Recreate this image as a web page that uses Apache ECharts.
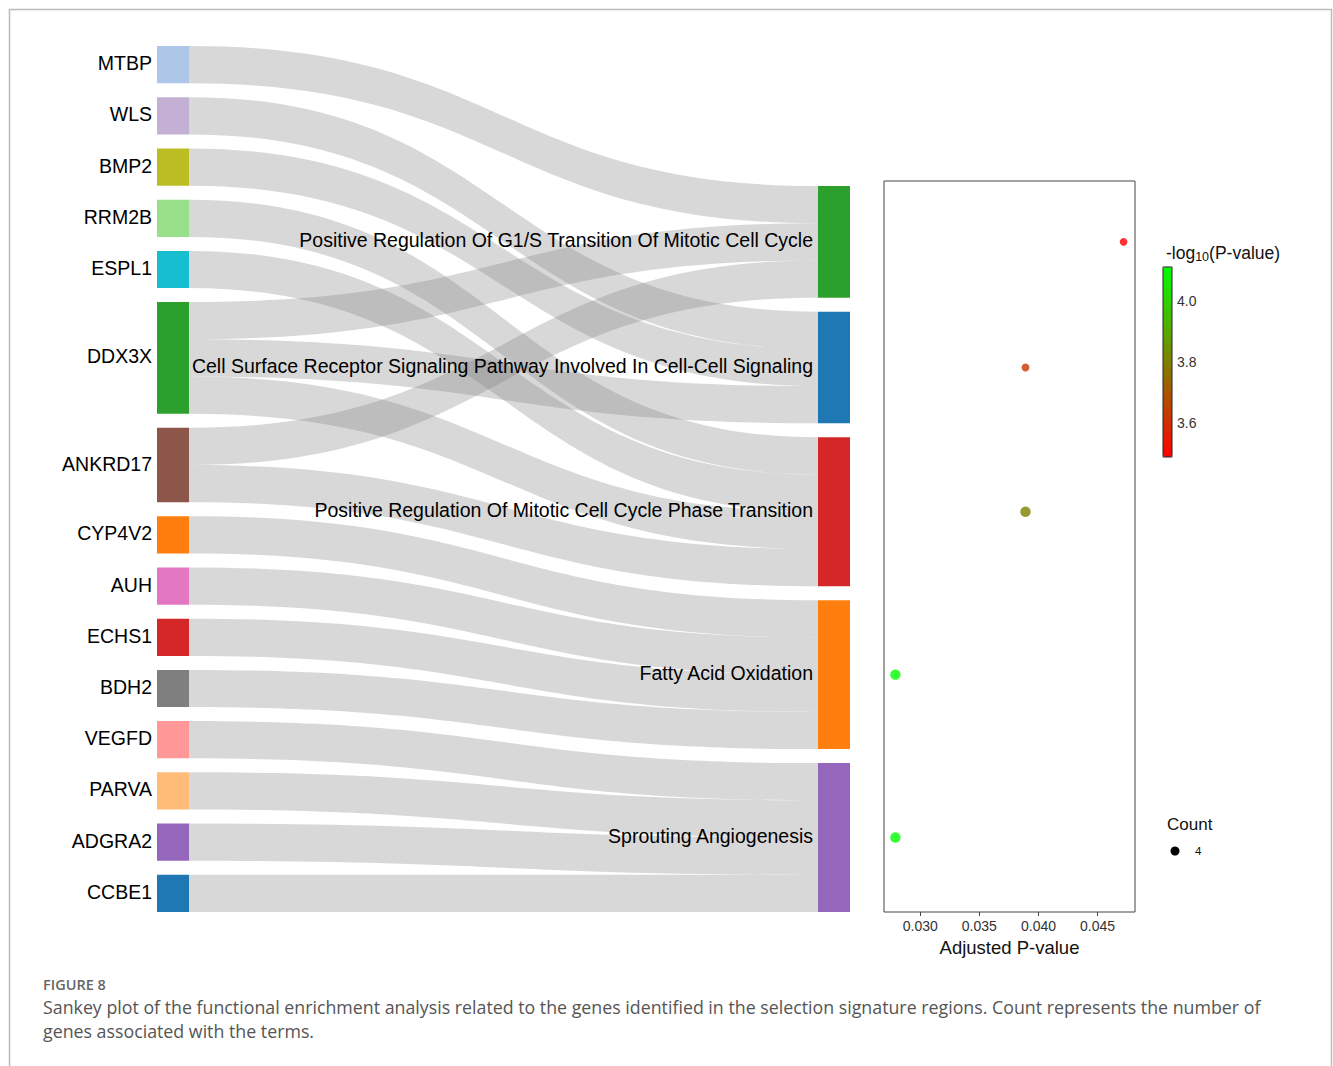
<!DOCTYPE html>
<html><head><meta charset="utf-8">
<script src="https://cdn.jsdelivr.net/npm/echarts@6/dist/echarts.min.js"></script>
<style>html,body{margin:0;padding:0;background:#fff}#c{width:1333px;height:1066px}</style>
</head><body><div id="c"></div>
<script>
// ---------- data ----------
const genes = ['MTBP','WLS','BMP2','RRM2B','ESPL1','DDX3X','ANKRD17','CYP4V2','AUH','ECHS1','BDH2','VEGFD','PARVA','ADGRA2','CCBE1'];
const geneColors = ['#aec7e8','#c5b0d5','#bcbd22','#98df8a','#17becf','#2ca02c','#8c564b','#ff7f0e','#e377c2','#d62728','#7f7f7f','#ff9896','#ffbb78','#9467bd','#1f77b4'];
const terms = [
  'Positive Regulation Of G1/S Transition Of Mitotic Cell Cycle',
  'Cell Surface Receptor Signaling Pathway Involved In Cell-Cell Signaling',
  'Positive Regulation Of Mitotic Cell Cycle Phase Transition',
  'Fatty Acid Oxidation',
  'Sprouting Angiogenesis'
];
const termColors = ['#2ca02c','#1f77b4','#d62728','#ff7f0e','#9467bd'];
const linkSource = ['MTBP','DDX3X','ANKRD17','WLS','BMP2','DDX3X','RRM2B','ESPL1','DDX3X','ANKRD17','CYP4V2','AUH','ECHS1','BDH2','VEGFD','PARVA','ADGRA2','CCBE1'];
const linkTarget = [0,0,0,1,1,1,2,2,2,2,3,3,3,3,4,4,4,4];
const linkValue  = [1,1,1,1,1,1,1,1,1,1,1,1,1,1,1,1,1,1];
const termAdjP   = [0.0472, 0.0389, 0.0389, 0.0279, 0.0279];
const termNegLogP = [3.489, 3.62, 3.80, 4.111, 4.111];
const termCount  = [3, 3, 4, 4, 4];
const xTicks = [0.030, 0.035, 0.040, 0.045];
const cbTicks = [3.6, 3.8, 4.0];

// ---------- layout constants ----------
const SK = {left:157, top:46, width:693, height:866, nodeWidth:32, nodeGap:14};
const GR = {left:884, top:181, width:251, height:731};
const CB = {left:1163, top:267, width:9, height:190};
const FONT = 'Liberation Sans, Arial, Helvetica, sans-serif';
const CAPFONT = 'Open Sans, Noto Sans, sans-serif';

function buildNodes(termLocalY){
  return genes.map((g,i)=>({name:g, itemStyle:{color:geneColors[i]}}))
    .concat(terms.map((t,i)=>{
      const n = {name:t, itemStyle:{color:termColors[i]}};
      if (termLocalY) n.localY = termLocalY[i];
      return n;
    }));
}
const links = linkSource.map((s,i)=>({source:s, target:terms[linkTarget[i]], value:linkValue[i]}));

const xmn = Math.min(...termAdjP), xmx = Math.max(...termAdjP);
const xMin = xmn - 0.05*(xmx-xmn), xMax = xmx + 0.05*(xmx-xmn);
const vMin = Math.min(...termNegLogP), vMax = Math.max(...termNegLogP);

function analyticCenters(){
  const total = linkValue.reduce((a,b)=>a+b,0);
  const ky = (SK.height - (genes.length-1)*SK.nodeGap)/total;
  const out = []; let y = SK.height;
  for (let i = terms.length-1; i >= 0; i--) {
    const h = termCount[i]*ky;
    out[i] = y - h/2; y -= h + SK.nodeGap;
  }
  return out;
}
function dotData(centers){
  return terms.map((t,i)=>[termAdjP[i], centers[i], termNegLogP[i], termCount[i]]);
}

const chart = echarts.init(document.getElementById('c'), null, {renderer:'svg'});
const option = {
  animation:false,
  backgroundColor:'#fff',
  grid:[
    {left:GR.left, top:GR.top, width:GR.width, height:GR.height, show:true, borderColor:'#444', borderWidth:1, backgroundColor:'transparent'},
    {left:CB.left, top:CB.top, width:CB.width, height:CB.height, show:true, borderColor:'#222', borderWidth:1, backgroundColor:'transparent', z:10}
  ],
  xAxis:[
    {gridIndex:0, type:'value', min:xMin, max:xMax,
     axisLine:{show:false}, splitLine:{show:false},
     axisTick:{show:true, length:4, customValues:xTicks, lineStyle:{color:'#444'}},
     axisLabel:{customValues:xTicks, formatter:v=>v.toFixed(3), fontSize:14, color:'#333', margin:7, fontFamily:FONT},
     name:'Adjusted P-value', nameLocation:'middle', nameGap:24,
     nameTextStyle:{fontSize:18.5, color:'#111', fontFamily:FONT}},
    {gridIndex:1, type:'value', show:false, min:0, max:1}
  ],
  yAxis:[
    {gridIndex:0, type:'value', inverse:true, min:GR.top-SK.top, max:GR.top+GR.height-SK.top,
     axisLine:{show:false}, axisTick:{show:false}, axisLabel:{show:false}, splitLine:{show:false}},
    {gridIndex:1, type:'value', position:'right', min:vMin, max:vMax,
     axisLine:{show:false}, splitLine:{show:false},
     axisTick:{show:true, length:4, customValues:cbTicks, lineStyle:{color:'#333'}},
     axisLabel:{customValues:cbTicks, formatter:v=>v.toFixed(1), fontSize:14, color:'#333', margin:5, fontFamily:FONT}}
  ],
  visualMap:{type:'continuous', seriesIndex:1, dimension:2, min:vMin, max:vMax,
    inRange:{color:['#ff0000','#00ff00']}, orient:'vertical', left:CB.left, top:CB.top,
    itemWidth:CB.width, itemHeight:CB.height, calculable:false, padding:0, hoverLink:false},
  series:[
    {id:'sk', type:'sankey', left:SK.left, top:SK.top, width:SK.width, height:SK.height,
     nodeWidth:SK.nodeWidth, nodeGap:SK.nodeGap, draggable:false, layoutIterations:0,
     emphasis:{disabled:true},
     label:{position:'left', distance:5, fontSize:19.5, color:'#000', fontFamily:FONT, offset:[0,-1.5]},
     itemStyle:{borderWidth:0},
     lineStyle:{color:'rgb(128,128,128)', opacity:0.31, curveness:0.5},
     data:buildNodes(null), links:links},
    {id:'dots', type:'scatter', xAxisIndex:0, yAxisIndex:0,
     symbolSize:v=>v[3]*2.6, data:dotData(analyticCenters())}
  ],
  graphic:[
    {type:'polyline', silent:true, shape:{points:[[9.5,1066],[9.5,9.5],[1331.5,9.5],[1331.5,1066]]}, style:{stroke:'#bbb', lineWidth:1.5, fill:null}},
    {type:'text', left:1166, top:244, style:{text:'-log{s|10}(P-value)', fontSize:17.5, fill:'#111', fontFamily:FONT,
      rich:{s:{fontSize:12.5, padding:[8,0,0,0], fontFamily:FONT, fill:'#111'}}}},
    {type:'text', left:1167, top:816, style:{text:'Count', fontSize:17, fill:'#111', fontFamily:FONT}},
    {type:'circle', shape:{cx:1175, cy:851, r:4.5}, style:{fill:'#000'}},
    {type:'text', left:1195, top:845, style:{text:'4', fontSize:11.5, fill:'#111', fontFamily:FONT}},
    {type:'text', left:43, top:977, style:{text:'FIGURE 8', fontSize:14.5, fill:'#666', fontWeight:600, fontFamily:CAPFONT}},
    {type:'text', left:43, top:998, style:{text:'Sankey plot of the functional enrichment analysis related to the genes identified in the selection signature regions. Count represents the number of', fontSize:17.8, fill:'#555', fontFamily:CAPFONT}},
    {type:'text', left:43, top:1022, style:{text:'genes associated with the terms.', fontSize:17.8, fill:'#555', fontFamily:CAPFONT}}
  ]
};
chart.setOption(option);

// bottom-align the term column (as in the reference) using the library's own node layout
try {
  const d = chart.getModel().getSeriesByIndex(0).getData();
  const lays = terms.map(t=>d.getItemLayout(d.indexOfName(t)));
  const last = lays[lays.length-1];
  const shift = SK.height - (last.y + last.dy);
  const localY = lays.map(l=>(l.y + shift)/SK.height);
  const centers = lays.map(l=>l.y + shift + l.dy/2);
  if (centers.every(c=>isFinite(c))) {
    chart.setOption({series:[{id:'sk', data:buildNodes(localY)}, {id:'dots', data:dotData(centers)}]});
  }
} catch(e) {}
</script></body></html>
